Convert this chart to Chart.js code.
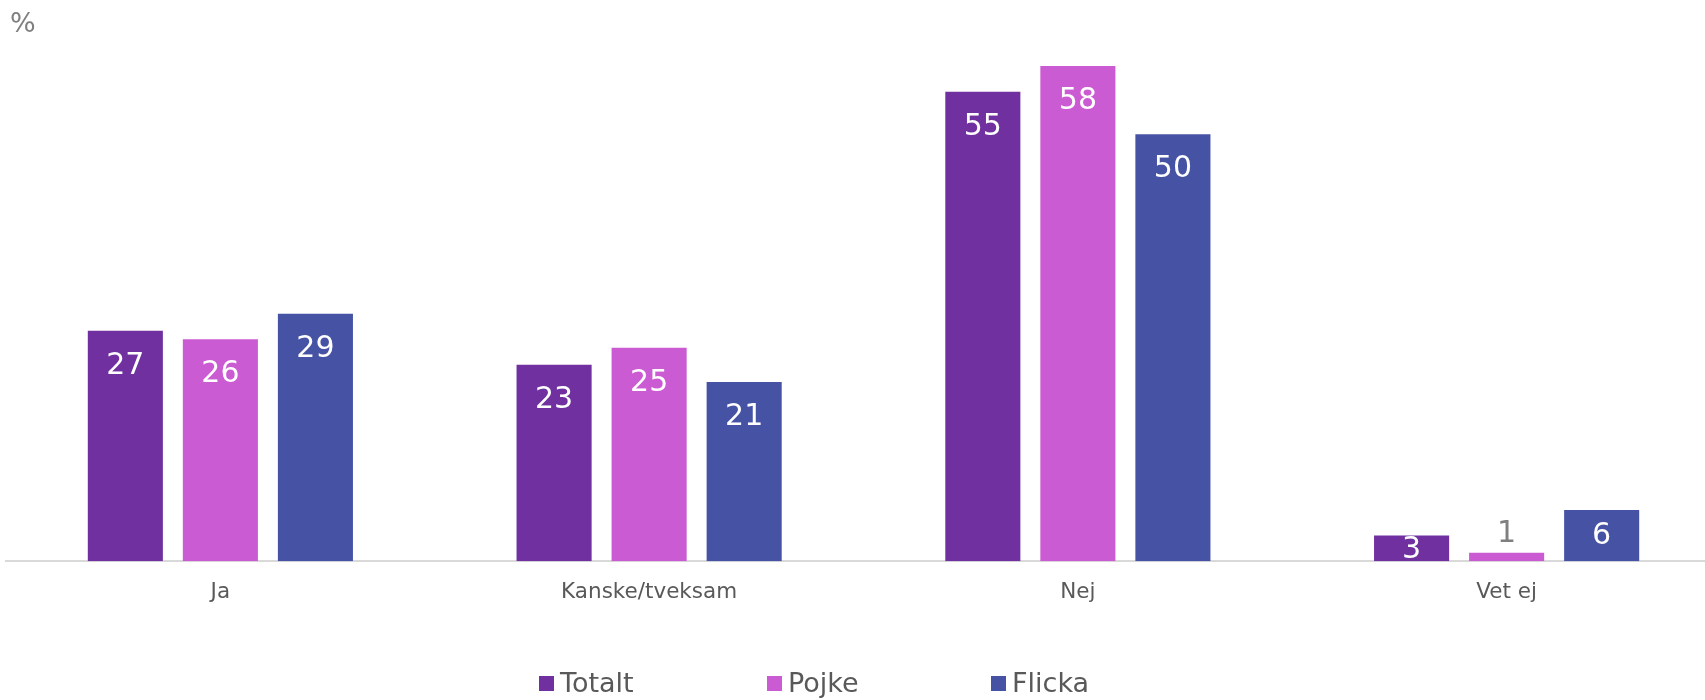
<!DOCTYPE html>
<html>
<head>
<meta charset="utf-8">
<script src="https://cdn.jsdelivr.net/npm/chart.js@4/dist/chart.umd.min.js"></script>
<style>
    html, body { margin: 0; padding: 0; background: #fff; overflow: hidden; }
    #wrap { width: 1705px; height: 700px; overflow: hidden; }
</style>
</head>
<body>
<div id="wrap"><canvas id="chart" width="1722" height="700"></canvas></div>
<script>
const categories = ['Ja', 'Kanske/tveksam', 'Nej', 'Vet ej'];
const seriesNames = ['Totalt', 'Pojke', 'Flicka'];
const totalt = [27, 23, 55, 3];
const pojke = [26, 25, 58, 1];
const flicka = [29, 21, 50, 6];
const colors = ['#70309f', '#cb5bd3', '#4653a5'];

const labelFont = '30px "DejaVu Sans", Verdana, sans-serif';

// value labels: white inside the top of the bar, grey above when the bar is too short
const valueLabels = {
    id: 'valueLabels',
    afterDatasetsDraw(chart) {
        const ctx = chart.ctx;
        ctx.save();
        ctx.font = labelFont;
        ctx.textAlign = 'center';
        ctx.textBaseline = 'alphabetic';
        chart.data.datasets.forEach((ds, i) => {
            chart.getDatasetMeta(i).data.forEach((bar, j) => {
                const top = bar.y;
                const base = bar.base;
                const text = String(ds.data[j]);
                if (base - top < 20) {
                    ctx.fillStyle = '#7f7f7f';
                    ctx.fillText(text, bar.x, top - 11);
                } else {
                    const cy = Math.min(top + 32, top + (base - top) * 0.44);
                    ctx.fillStyle = '#ffffff';
                    ctx.fillText(text, bar.x, cy + 11);
                }
            });
        });
        ctx.restore();
    }
};

// unit label and legend row
const legendX = [539, 767, 991];
const extras = {
    id: 'extras',
    afterDraw(chart) {
        const ctx = chart.ctx;
        ctx.save();
        ctx.fillStyle = '#7f7f7f';
        ctx.font = '27px "DejaVu Sans", sans-serif';
        ctx.textBaseline = 'alphabetic';
        ctx.fillText('%', 10, 32);

        ctx.font = '27px "DejaVu Sans", sans-serif';
        chart.data.datasets.forEach((ds, i) => {
            const x = legendX[i];
            ctx.fillStyle = ds.backgroundColor;
            ctx.fillRect(x, 676, 15, 15);
            ctx.fillStyle = '#595959';
            ctx.fillText(ds.label, x + 21, 692);
        });
        ctx.restore();
    }
};

new Chart(document.getElementById('chart'), {
    type: 'bar',
    data: {
        labels: categories,
        datasets: [
            { label: seriesNames[0], data: totalt, backgroundColor: colors[0] },
            { label: seriesNames[1], data: pojke, backgroundColor: colors[1] },
            { label: seriesNames[2], data: flicka, backgroundColor: colors[2] }
        ]
    },
    options: {
        responsive: false,
        animation: false,
        categoryPercentage: 0.665,
        barPercentage: 0.79,
        layout: { padding: { left: 6, right: 1, top: 49, bottom: 77 } },
        plugins: {
            legend: { display: false },
            tooltip: { enabled: false }
        },
        scales: {
            x: {
                grid: { display: false, drawTicks: false },
                border: { display: true, color: '#d9d9d9', width: 2 },
                ticks: {
                    color: '#595959',
                    padding: 18,
                    font: { family: '"DejaVu Sans", Verdana, sans-serif', size: 21.5 }
                }
            },
            y: {
                display: false,
                min: 0,
                max: 60
            }
        }
    },
    plugins: [valueLabels, extras]
});
</script>
</body>
</html>
